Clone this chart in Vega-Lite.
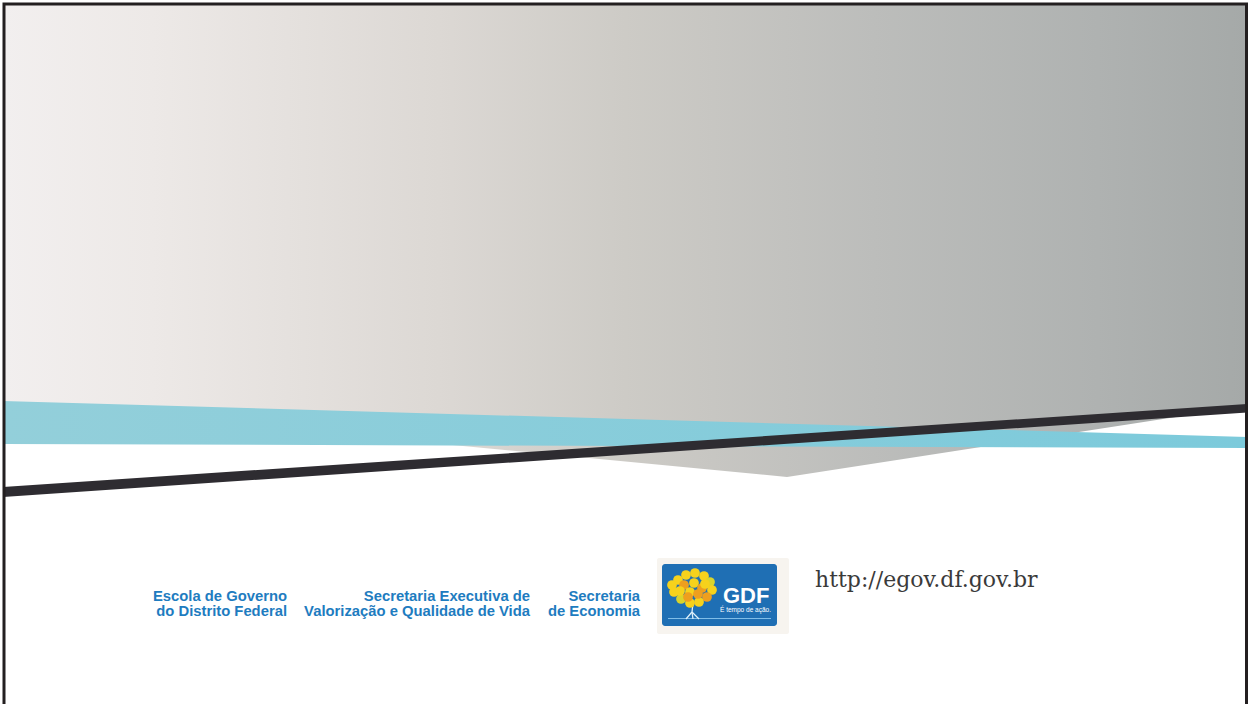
{
  "$schema": "https://vega.github.io/schema/vega-lite/v6.json",
  "width": 1250,
  "height": 704,
  "padding": 0,
  "autosize": {"type": "none"},
  "background": "#ffffff",
  "config": {"view": {"stroke": null}},
  "datasets": {
    "greyShape": [
      {"x": 3, "bottom": 402, "top": 3},
      {"x": 787, "bottom": 477, "top": 3},
      {"x": 1247, "bottom": 406, "top": 3}
    ],
    "cyanBand": [
      {"x": 3, "top": 401, "bottom": 444},
      {"x": 1247, "top": 437, "bottom": 448}
    ],
    "darkBand": [
      {"x": 3, "top": 487, "bottom": 497},
      {"x": 1247, "top": 404, "bottom": 412.5}
    ],
    "logoFrame": [
      {"x": 657, "x2": 789, "y": 558, "y2": 634, "part": "frame"}
    ],
    "logoBox": [
      {"x": 662, "x2": 777, "y": 564, "y2": 626, "part": "box"}
    ],
    "canopy": [
      {"x": 678, "y": 580, "tone": "yellow"},
      {"x": 686, "y": 575, "tone": "yellow"},
      {"x": 695, "y": 573, "tone": "yellow"},
      {"x": 704, "y": 576, "tone": "yellow"},
      {"x": 710, "y": 582, "tone": "lime"},
      {"x": 712, "y": 590, "tone": "yellow"},
      {"x": 707, "y": 597, "tone": "orange"},
      {"x": 699, "y": 602, "tone": "yellow"},
      {"x": 690, "y": 603, "tone": "yellow"},
      {"x": 681, "y": 599, "tone": "lime"},
      {"x": 674, "y": 592, "tone": "yellow"},
      {"x": 672, "y": 585, "tone": "yellow"},
      {"x": 684, "y": 585, "tone": "orange"},
      {"x": 694, "y": 583, "tone": "yellow"},
      {"x": 702, "y": 588, "tone": "orange"},
      {"x": 690, "y": 592, "tone": "yellow"},
      {"x": 698, "y": 594, "tone": "orange"},
      {"x": 680, "y": 591, "tone": "yellow"},
      {"x": 688, "y": 597, "tone": "orange"},
      {"x": 705, "y": 584, "tone": "yellow"}
    ],
    "trunk": [
      {"seg": "a", "o": 1, "x": 693, "y": 603},
      {"seg": "a", "o": 2, "x": 692, "y": 612},
      {"seg": "a", "o": 3, "x": 686, "y": 619},
      {"seg": "b", "o": 1, "x": 692, "y": 612},
      {"seg": "b", "o": 2, "x": 699, "y": 619},
      {"seg": "c", "o": 1, "x": 692, "y": 612},
      {"seg": "c", "o": 2, "x": 693, "y": 619}
    ],
    "ground": [
      {"seg": "g", "o": 1, "x": 668, "y": 618.5},
      {"seg": "g", "o": 2, "x": 771, "y": 618.5}
    ],
    "orgText": [
      {"x": 287, "y": 600.5, "label": "Escola de Governo"},
      {"x": 287, "y": 615.5, "label": "do Distrito Federal"},
      {"x": 530, "y": 600.5, "label": "Secretaria Executiva de"},
      {"x": 530, "y": 615.5, "label": "Valorização e Qualidade de Vida"},
      {"x": 640, "y": 600.5, "label": "Secretaria"},
      {"x": 640, "y": 615.5, "label": "de Economia"}
    ],
    "gdfText": [{"x": 723, "y": 603, "label": "GDF"}],
    "sloganText": [{"x": 720, "y": 612, "label": "É tempo de ação."}],
    "urlText": [{"x": 815, "y": 587, "label": "http://egov.df.gov.br"}],
    "border": [{"x": 4, "x2": 1246.5, "y": 4, "y2": 720}]
  },
  "layer": [
    {
      "data": {"name": "greyShape"},
      "mark": {
        "type": "area",
        "fill": {
          "gradient": "linear", "x1": 0, "y1": 0, "x2": 1, "y2": 0,
          "stops": [
            {"offset": 0, "color": "#f2efef"},
            {"offset": 0.12, "color": "#ede9e7"},
            {"offset": 0.35, "color": "#dcd8d4"},
            {"offset": 0.5, "color": "#cdcbc6"},
            {"offset": 0.7, "color": "#bcbdbb"},
            {"offset": 0.88, "color": "#afb2b1"},
            {"offset": 1, "color": "#a5a9a8"}
          ]
        }
      },
      "encoding": {
        "x": {"field": "x", "type": "quantitative", "scale": {"domain": [0, 1250], "nice": false, "zero": false}, "axis": null},
        "y": {"field": "bottom", "type": "quantitative", "scale": {"domain": [0, 704], "reverse": true, "nice": false, "zero": false}, "axis": null},
        "y2": {"field": "top"}
      }
    },
    {
      "data": {"name": "cyanBand"},
      "mark": {
        "type": "area",
        "fill": {
          "gradient": "linear", "x1": 0, "y1": 0, "x2": 1, "y2": 0,
          "stops": [
            {"offset": 0, "color": "#93cfda"},
            {"offset": 1, "color": "#7ccadb"}
          ]
        }
      },
      "encoding": {
        "x": {"field": "x", "type": "quantitative"},
        "y": {"field": "bottom", "type": "quantitative"},
        "y2": {"field": "top"}
      }
    },
    {
      "data": {"name": "darkBand"},
      "mark": {"type": "area", "fill": "#2e2c31"},
      "encoding": {
        "x": {"field": "x", "type": "quantitative"},
        "y": {"field": "bottom", "type": "quantitative"},
        "y2": {"field": "top"}
      }
    },
    {
      "data": {"name": "logoFrame"},
      "mark": {"type": "rect", "fill": "#f7f4ef", "cornerRadius": 2},
      "encoding": {
        "x": {"field": "x", "type": "quantitative"},
        "x2": {"field": "x2"},
        "y": {"field": "y", "type": "quantitative"},
        "y2": {"field": "y2"}
      }
    },
    {
      "data": {"name": "logoBox"},
      "mark": {"type": "rect", "fill": "#1f6fb4", "cornerRadius": 3},
      "encoding": {
        "x": {"field": "x", "type": "quantitative"},
        "x2": {"field": "x2"},
        "y": {"field": "y", "type": "quantitative"},
        "y2": {"field": "y2"}
      }
    },
    {
      "data": {"name": "ground"},
      "mark": {"type": "line", "stroke": "#7fbde8", "strokeWidth": 1},
      "encoding": {
        "x": {"field": "x", "type": "quantitative"},
        "y": {"field": "y", "type": "quantitative"},
        "detail": {"field": "seg"},
        "order": {"field": "o"}
      }
    },
    {
      "data": {"name": "trunk"},
      "mark": {"type": "line", "stroke": "#dff0fa", "strokeWidth": 1.3},
      "encoding": {
        "x": {"field": "x", "type": "quantitative"},
        "y": {"field": "y", "type": "quantitative"},
        "detail": {"field": "seg"},
        "order": {"field": "o"}
      }
    },
    {
      "data": {"name": "canopy"},
      "mark": {"type": "point", "filled": true, "opacity": 1, "size": 95},
      "encoding": {
        "x": {"field": "x", "type": "quantitative"},
        "y": {"field": "y", "type": "quantitative"},
        "color": {
          "field": "tone", "type": "nominal", "legend": null,
          "scale": {"domain": ["yellow", "orange", "lime"], "range": ["#f6d21c", "#ee9f1e", "#d9d42c"]}
        }
      }
    },
    {
      "data": {"name": "gdfText"},
      "mark": {"type": "text", "font": "Liberation Sans", "fontWeight": "bold", "fontSize": 22, "align": "left", "baseline": "alphabetic", "color": "#ffffff"},
      "encoding": {
        "x": {"field": "x", "type": "quantitative"},
        "y": {"field": "y", "type": "quantitative"},
        "text": {"field": "label"}
      }
    },
    {
      "data": {"name": "sloganText"},
      "mark": {"type": "text", "font": "Liberation Sans", "fontSize": 6.5, "align": "left", "baseline": "alphabetic", "color": "#ffffff"},
      "encoding": {
        "x": {"field": "x", "type": "quantitative"},
        "y": {"field": "y", "type": "quantitative"},
        "text": {"field": "label"}
      }
    },
    {
      "data": {"name": "orgText"},
      "mark": {"type": "text", "font": "Liberation Sans", "fontWeight": "bold", "fontSize": 14.8, "align": "right", "baseline": "alphabetic", "color": "#1e7cc0"},
      "encoding": {
        "x": {"field": "x", "type": "quantitative"},
        "y": {"field": "y", "type": "quantitative"},
        "text": {"field": "label"}
      }
    },
    {
      "data": {"name": "urlText"},
      "mark": {"type": "text", "font": "DejaVu Serif", "fontSize": 22, "align": "left", "baseline": "alphabetic", "color": "#3a3a3a"},
      "encoding": {
        "x": {"field": "x", "type": "quantitative"},
        "y": {"field": "y", "type": "quantitative"},
        "text": {"field": "label"}
      }
    },
    {
      "data": {"name": "border"},
      "mark": {"type": "rect", "fill": "transparent", "stroke": "#231f20", "strokeWidth": 3},
      "encoding": {
        "x": {"field": "x", "type": "quantitative"},
        "x2": {"field": "x2"},
        "y": {"field": "y", "type": "quantitative"},
        "y2": {"field": "y2"}
      }
    }
  ]
}
